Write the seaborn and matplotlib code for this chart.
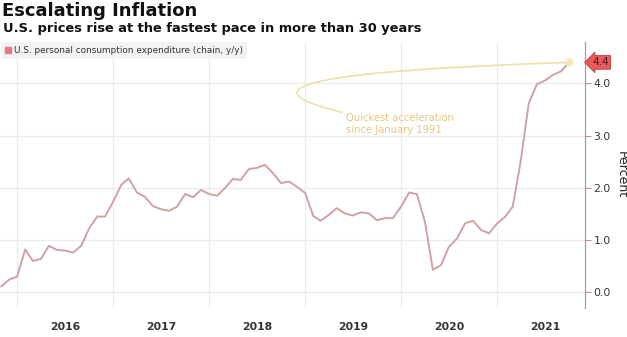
import matplotlib
matplotlib.use("Agg")
import matplotlib.pyplot as plt
import matplotlib.dates as mdates
import matplotlib.transforms as mtransforms
from matplotlib.patches import Patch, PathPatch
from matplotlib.path import Path
import pandas as pd
import seaborn as sns

# Monthly PCE price index, year-over-year % change (Nov 2015 - Oct 2021)
months = pd.date_range("2015-11-01", periods=72, freq="MS")
pce = [0.11, 0.24,
       0.30, 0.82, 0.60, 0.64, 0.89, 0.81, 0.80, 0.76, 0.89, 1.22, 1.45, 1.45,
       1.74, 2.06, 2.18, 1.91, 1.83, 1.65, 1.59, 1.56, 1.64, 1.88, 1.82, 1.96,
       1.88, 1.85, 1.99, 2.17, 2.15, 2.36, 2.38, 2.44, 2.28, 2.09, 2.12, 2.02,
       1.90, 1.46, 1.37, 1.48, 1.61, 1.51, 1.47, 1.53, 1.51, 1.38, 1.42, 1.42,
       1.64, 1.91, 1.88, 1.35, 0.43, 0.52, 0.87, 1.03, 1.32, 1.37, 1.19, 1.13,
       1.32, 1.45, 1.64, 2.53, 3.62, 3.98, 4.05, 4.16, 4.23, 4.40]
years = ["2016", "2017", "2018", "2019", "2020", "2021"]
y_ticks = [0.0, 1.0, 2.0, 3.0, 4.0]
series_name = "U.S. personal consumption expenditure (chain, y/y)"
title = "Escalating Inflation"
subtitle = "U.S. prices rise at the fastest pace in more than 30 years"
note = "Quickest acceleration\nsince January 1991"

LINE = "#cfa2a4"
SPINE = "#c98e90"
GOLD = "#e6c77e"
GRID = "#ececec"

sns.set_theme(style="white")
plt.rcParams["font.family"] = ["DejaVu Sans"]

fig = plt.figure(figsize=(6.27, 3.37), dpi=100)
fig.patch.set_facecolor("white")
ax = fig.add_axes([0.0, 29 / 337, 585 / 627, (308 - 42) / 337])

df = pd.DataFrame({"month": months, "pce": pce})
sns.lineplot(data=df, x="month", y="pce", ax=ax, color=LINE, linewidth=1.4)

ax.set_xlim(pd.Timestamp("2015-10-28"), pd.Timestamp("2021-12-01"))
ax.set_ylim(-0.30, 4.79)

# year boundaries as gridlines, year names centred in each year
ax.set_xticks([pd.Timestamp(f"{y}-01-01") for y in years])
ax.set_xticklabels([])
ax.set_xticks([pd.Timestamp(f"{y}-07-02") for y in years], minor=True)
ax.set_xticklabels(years, minor=True, fontsize=7.8, color="#333333", fontweight="semibold")
ax.tick_params(axis="x", which="both", length=0, pad=10)

ax.yaxis.tick_right()
ax.yaxis.set_label_position("right")
ax.set_yticks(y_ticks)
ax.set_yticklabels([f"{v:.1f}" for v in y_ticks], fontsize=7.8, color="#333333")
ax.tick_params(axis="y", which="major", length=4, width=0.8, color=SPINE, pad=2,
               right=True, left=False)
ax.set_ylabel("Percent", rotation=270, fontsize=9, color="#222222", labelpad=12)
ax.set_xlabel("")

ax.grid(True, which="major", color=GRID, linewidth=0.9)
ax.set_axisbelow(True)
for side in ("top", "left", "bottom"):
    ax.spines[side].set_visible(False)
ax.spines["right"].set_color(SPINE)
ax.spines["right"].set_linewidth(0.9)

# legend with a square swatch
leg = ax.legend(handles=[Patch(color="#e27c83")], labels=[series_name],
                loc="upper left", bbox_to_anchor=(0.002, 1.0), frameon=True,
                fontsize=6.4, handlelength=0.7, handleheight=0.7, handletextpad=0.3,
                borderpad=0.45, borderaxespad=0.0, labelcolor="#333333")
leg.get_frame().set_facecolor("#f1f1f1")
leg.get_frame().set_edgecolor("none")
leg.get_frame().set_boxstyle("square", pad=0.0)

# latest value marker and flag on the axis
last_x, last_y = months[-1], pce[-1]
ax.plot([last_x], [last_y], "o", ms=6, color="#f4e8b8", mec="none", zorder=5)
trans = mtransforms.blended_transform_factory(ax.transAxes, ax.transData)
ax.text(1.012, last_y, f"{last_y:.1f}", transform=trans, va="center", ha="left",
        fontsize=7.5, color="#5a0f10", clip_on=False,
        bbox=dict(boxstyle="larrow,pad=0.18", fc="#e65a5e", ec="#c73d40", lw=0.6))

# curved callout from the note to the latest point
x0 = mdates.date2num(pd.Timestamp("2019-05-25"))
x1 = mdates.date2num(pd.Timestamp("2017-10-01"))
x2 = mdates.date2num(last_x)
curve = Path([(x0, 3.44), (x1, 4.16), (x2, last_y)],
             [Path.MOVETO, Path.CURVE3, Path.CURVE3])
ax.add_patch(PathPatch(curve, fc="none", ec="#ede0a8", lw=1.2, zorder=4))
ax.text(pd.Timestamp("2019-06-04"), 3.44, note, va="top", ha="left",
        fontsize=7.2, color=GOLD, linespacing=1.25)

fig.text(0.003, 1 - 2 / 337, title, va="top", ha="left", fontsize=13,
         fontweight="bold", color="#111111")
fig.text(0.004, 1 - 22 / 337, subtitle, va="top", ha="left", fontsize=9.4,
         fontweight="bold", color="#111111")

fig.savefig("out.png", dpi=100, facecolor="white")
